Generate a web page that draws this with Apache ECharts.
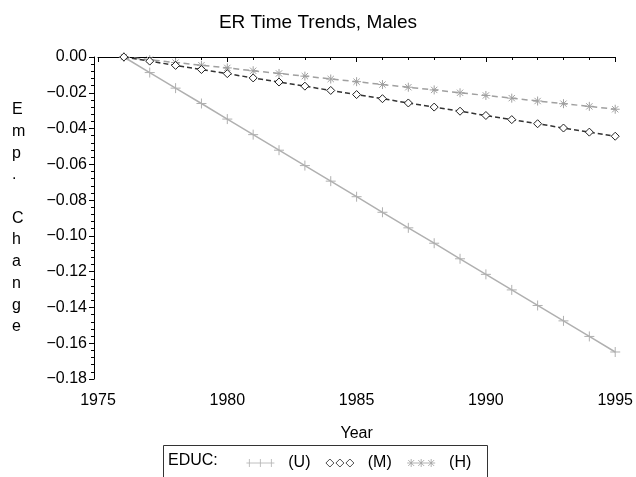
<!DOCTYPE html>
<html>
<head>
<meta charset="utf-8">
<script src="https://cdn.jsdelivr.net/npm/echarts@6/dist/echarts.min.js"></script>
<style>
  html, body { margin: 0; padding: 0; background: #fff; }
  #chart-container { width: 636px; height: 477px; }
</style>
</head>
<body>
<div id="chart-container"></div>
<script>
// values
var years = [1976, 1977, 1978, 1979, 1980, 1981, 1982, 1983, 1984, 1985,
             1986, 1987, 1988, 1989, 1990, 1991, 1992, 1993, 1994, 1995];
var educU = [0, -0.0087, -0.0174, -0.0260, -0.0347, -0.0434, -0.0521, -0.0607, -0.0694, -0.0781,
             -0.0868, -0.0955, -0.1041, -0.1128, -0.1215, -0.1302, -0.1389, -0.1475, -0.1562, -0.1649];
var educM = [0, -0.0023, -0.0047, -0.0070, -0.0093, -0.0117, -0.0140, -0.0163, -0.0187, -0.0210,
             -0.0233, -0.0257, -0.0280, -0.0303, -0.0327, -0.0350, -0.0373, -0.0397, -0.0420, -0.0443];
var educH = [0, -0.0015, -0.0031, -0.0046, -0.0061, -0.0077, -0.0092, -0.0107, -0.0123, -0.0138,
             -0.0154, -0.0169, -0.0184, -0.0200, -0.0215, -0.0230, -0.0246, -0.0261, -0.0276, -0.0292];
var seriesNames = ['(U)', '(M)', '(H)'];

var FONT = 'Liberation Sans, Arial, Helvetica, sans-serif';

var plus = 'path://M0,5L10,5M5,0L5,10';
var diamond = 'path://M5,0L10,5L5,10L0,5Z';
var star = 'path://M0,5L10,5M5,0L5,10M1.5,1.5L8.5,8.5M1.5,8.5L8.5,1.5';
var plus3 = 'path://M0,4L28,4M3,0L3,8M14,0L14,8M25,0L25,8';
var diamond3 = 'path://M0,4L4,0L8,4L4,8ZM10,4L14,0L18,4L14,8ZM20,4L24,0L28,4L24,8Z';
var star3 = 'path://M0,4L28,4M4,0L4,8M1,1L7,7M1,7L7,1M14,0L14,8M11,1L17,7M11,7L17,1M24,0L24,8M21,1L27,7M21,7L27,1';

function pairs(vals) {
  return years.map(function (y, i) { return [y, vals[i]]; });
}

var dom = document.getElementById('chart-container');
var myChart = echarts.init(dom, null, { renderer: 'canvas' });

var option = {
  backgroundColor: '#fff',
  animation: false,
  textStyle: { fontFamily: FONT },
  title: {
    text: 'ER Time Trends, Males',
    left: 'center',
    top: 8,
    textStyle: { fontFamily: FONT, fontSize: 19, fontWeight: 'normal', color: '#000' }
  },
  grid: { left: 98, right: 19, top: 57, bottom: 98, containLabel: false },
  xAxis: {
    type: 'value',
    min: 1975,
    max: 1995,
    interval: 5,
    offset: 3,
    name: 'Year',
    nameLocation: 'middle',
    nameGap: 44,
    nameTextStyle: { fontFamily: FONT, fontSize: 16, color: '#000' },
    axisLine: { lineStyle: { color: '#000', width: 1 } },
    axisTick: { inside: false, length: 5, lineStyle: { color: '#000' } },
    minorTick: { show: true, splitNumber: 5, length: 3, lineStyle: { color: '#000' } },
    splitLine: { show: false },
    axisLabel: {
      fontFamily: FONT, fontSize: 16, color: '#000', margin: 11,
      formatter: function (v) { return String(v); }
    }
  },
  yAxis: {
    type: 'value',
    min: -0.18,
    max: 0,
    interval: 0.02,
    offset: 4,
    axisLine: { show: true, lineStyle: { color: '#000', width: 1 } },
    axisTick: { show: true, inside: false, length: 5, lineStyle: { color: '#000' } },
    minorTick: { show: true, splitNumber: 5, length: 3, lineStyle: { color: '#000' } },
    splitLine: { show: false },
    axisLabel: {
      fontFamily: FONT, fontSize: 16, color: '#000', margin: 7,
      formatter: function (v) { return v.toFixed(2).replace('-', '\u2212'); }
    }
  },
  legend: {
    left: 246,
    top: 455,
    padding: 0,
    itemWidth: 28,
    itemHeight: 8,
    itemGap: 15,
    itemStyle: { borderWidth: 0.8 },
    textStyle: { fontFamily: FONT, fontSize: 16, color: '#000' },
    formatter: function (n) { return '  ' + n; },
    data: [
      { name: '(U)', icon: plus3 },
      { name: '(M)', icon: diamond3 },
      { name: '(H)', icon: star3 }
    ]
  },
  graphic: [
    {
      type: 'rect',
      shape: { x: 163.5, y: 445.5, width: 324, height: 40 },
      style: { fill: 'none', stroke: '#333', lineWidth: 1 }
    },
    {
      type: 'text',
      left: 168,
      top: 453,
      style: { text: 'EDUC:', font: '16px ' + FONT, fill: '#000' }
    },
    {
      type: 'text',
      left: 12,
      top: 99,
      style: {
        text: 'E\nm\np\n.\n\nC\nh\na\nn\ng\ne',
        font: '16px ' + FONT,
        fill: '#000',
        align: 'center',
        lineHeight: 21.7,
        width: 15
      }
    }
  ],
  series: [
    {
      name: seriesNames[0],
      type: 'line',
      data: pairs(educU),
      symbol: plus,
      symbolSize: 10,
      lineStyle: { color: '#b0b0b0', width: 1.5, type: 'solid' },
      itemStyle: { color: '#b0b0b0', borderColor: '#b0b0b0', borderWidth: 1 },
      z: 2
    },
    {
      name: seriesNames[1],
      type: 'line',
      data: pairs(educM),
      symbol: diamond,
      symbolSize: 8,
      lineStyle: { color: '#333', width: 1.5, type: [5, 3] },
      itemStyle: { color: '#fff', borderColor: '#222', borderWidth: 1 },
      z: 4
    },
    {
      name: seriesNames[2],
      type: 'line',
      data: pairs(educH),
      symbol: star,
      symbolSize: 9,
      lineStyle: { color: '#a0a0a0', width: 1.5, type: [6, 4] },
      itemStyle: { color: '#a0a0a0', borderColor: '#a0a0a0', borderWidth: 1 },
      z: 3
    }
  ]
};

if (option && typeof option === 'object') {
  myChart.setOption(option);
}

window.addEventListener('resize', myChart.resize);
</script>
</body>
</html>
